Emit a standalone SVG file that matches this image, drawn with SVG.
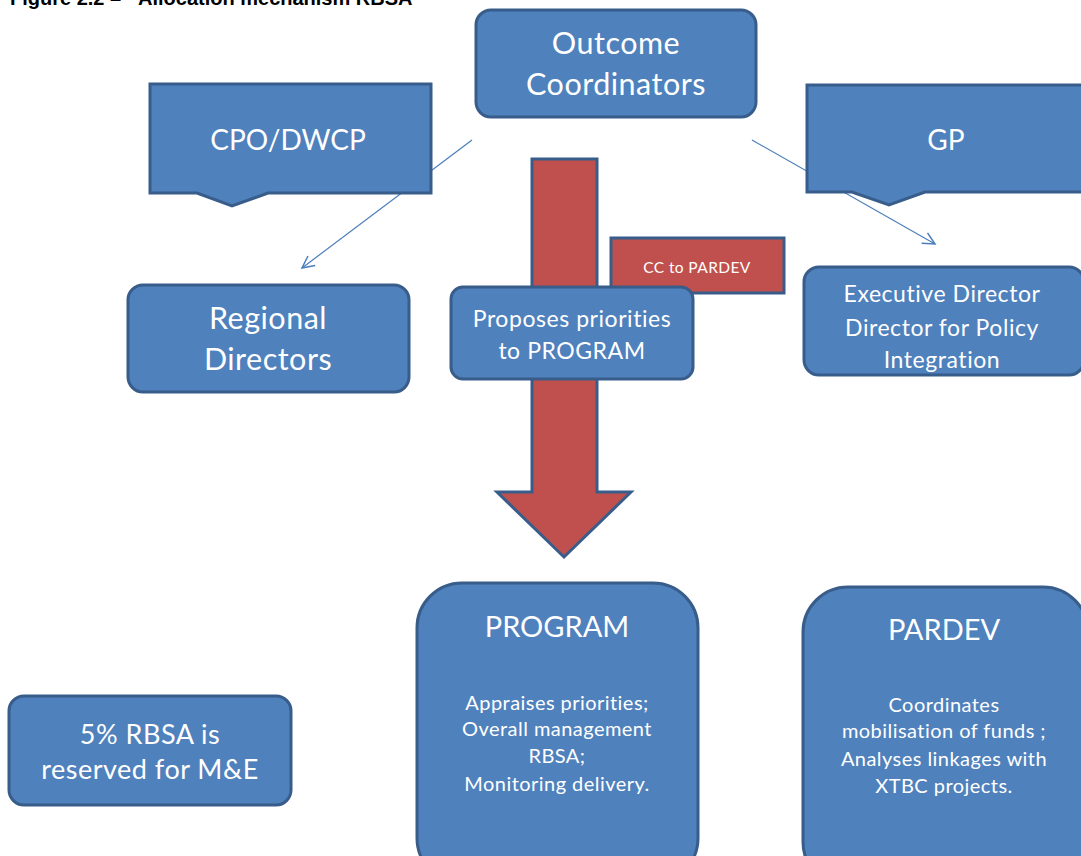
<svg xmlns="http://www.w3.org/2000/svg" width="1081" height="856" viewBox="0 0 1081 856">
<style>
.box{fill:#4F81BD;stroke:#385D8A;stroke-width:3}
.red{fill:#C0504D;stroke:#385D8A;stroke-width:3}
.t{fill:#FFFFFF;font-family:Lato,"Open Sans",sans-serif;text-anchor:middle}
.big{font-size:30.5px;letter-spacing:0.5px}
.cap{font-size:28px}
.mid{font-size:23px;letter-spacing:0.55px}
.small{font-size:20px;letter-spacing:0.45px}
.conn{fill:none;stroke:#4A7EBB;stroke-width:1.2}
</style>
<defs>
<marker id="arr" markerWidth="16" markerHeight="16" refX="14" refY="8" orient="auto" markerUnits="userSpaceOnUse">
<path d="M2,2 L14,8 L2,14" fill="none" stroke="#4A7EBB" stroke-width="1.5"/>
</marker>
</defs>
<rect width="1081" height="856" fill="#FFFFFF"/>
<text x="10" y="4.5" font-family="'Liberation Sans',Arial,sans-serif" font-weight="bold" font-size="20" fill="#000">Figure 2.2 –<tspan x="138">Allocation mechanism RBSA</tspan></text>

<g id="connectors">
<line class="conn" x1="472" y1="140" x2="302" y2="268" marker-end="url(#arr)"/>
<line class="conn" x1="752" y1="140" x2="935" y2="244" marker-end="url(#arr)"/>
</g>

<g id="outcome">
<rect class="box" x="476" y="10" width="280" height="107" rx="15"/>
<text class="t big" x="616" y="54">Outcome</text>
<text class="t big" x="616" y="95">Coordinators</text>
</g>

<g id="cpo">
<path class="box" d="M150,84 H431 V193 H268 L232,206 L197,193 H150 Z"/>
<text class="t cap" x="288" y="150">CPO/DWCP</text>
</g>

<g id="gp">
<path class="box" d="M807,85 H1087 V192 H925 L889,205 L852,192 H807 Z"/>
<text class="t cap" x="946" y="150">GP</text>
</g>

<g id="bigarrow">
<path class="red" d="M532,159 H597 V492 H631 L564,557 L497,492 H532 Z"/>
</g>

<g id="cc">
<rect class="red" x="611" y="238" width="173" height="55"/>
<text class="t" font-size="15.5" letter-spacing="0.4" x="697" y="273">CC to PARDEV</text>
</g>

<g id="proposes">
<rect class="box" x="451" y="287" width="242" height="92" rx="12"/>
<text class="t mid" x="572" y="327">Proposes priorities</text>
<text class="t mid" x="572" y="359">to PROGRAM</text>
</g>

<g id="regional">
<rect class="box" x="128" y="285" width="281" height="107" rx="15"/>
<text class="t big" x="268" y="329">Regional</text>
<text class="t big" x="268" y="370">Directors</text>
</g>

<g id="executive">
<rect class="box" x="804" y="267" width="280" height="108" rx="15"/>
<text class="t mid" x="942" y="302">Executive Director</text>
<text class="t mid" x="942" y="336">Director for Policy</text>
<text class="t mid" x="942" y="368">Integration</text>
</g>

<g id="program">
<rect class="box" x="417" y="583" width="281" height="300" rx="45"/>
<text class="t" font-size="29" x="557" y="637">PROGRAM</text>
<text class="t small" x="557" y="710">Appraises priorities;</text>
<text class="t small" x="557" y="736">Overall management</text>
<text class="t small" x="557" y="763">RBSA;</text>
<text class="t small" x="557" y="791">Monitoring delivery.</text>
</g>

<g id="pardev">
<rect class="box" x="803" y="587" width="285" height="300" rx="45"/>
<text class="t" font-size="29" x="944" y="640">PARDEV</text>
<text class="t small" x="944" y="712">Coordinates</text>
<text class="t small" x="944" y="738">mobilisation of funds ;</text>
<text class="t small" x="944" y="766">Analyses linkages with</text>
<text class="t small" x="944" y="793">XTBC projects.</text>
</g>

<g id="reserved">
<rect class="box" x="9" y="696" width="282" height="109" rx="15"/>
<text class="t" font-size="27" letter-spacing="0.5" x="150" y="744">5% RBSA is</text>
<text class="t" font-size="27" letter-spacing="0.5" x="150" y="779">reserved for M&amp;E</text>
</g>
</svg>
